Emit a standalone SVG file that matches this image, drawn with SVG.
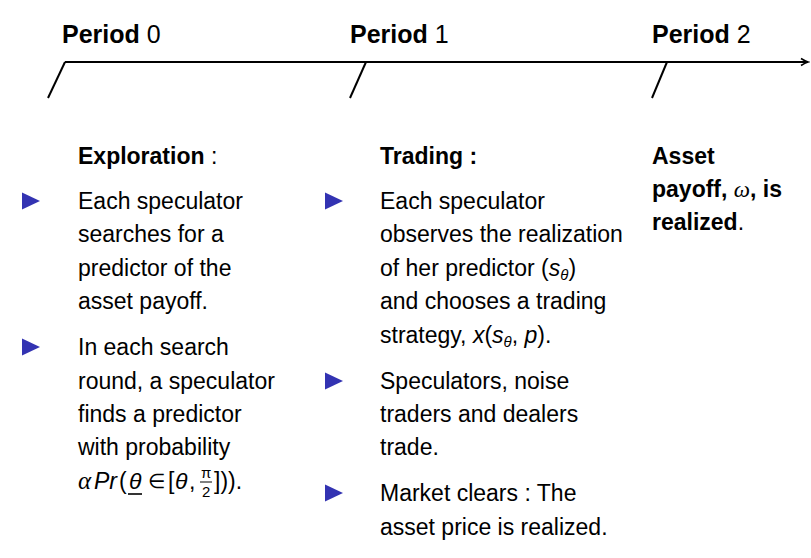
<svg xmlns="http://www.w3.org/2000/svg" width="811" height="558" viewBox="0 0 811 558">
<style>
text{font-family:"Liberation Sans",Arial,sans-serif;font-size:23px;fill:#000}
.b{font-weight:bold}
.h{font-size:25px}
.it{font-style:italic}
.ser{font-family:"Liberation Serif","Times New Roman",serif;font-style:italic}
.sub{font-size:15px}
.sm{font-size:15px}
.ln{stroke:#000;stroke-width:2;fill:none}
.bul{fill:#3333b2}
</style>
<defs>
<marker id="ah" markerWidth="10" markerHeight="10" refX="8" refY="5" orient="auto" markerUnits="userSpaceOnUse">
<path d="M1,1.5 Q5,4 8,5 Q5,6 1,8.5" fill="none" stroke="#000" stroke-width="1.6"/>
</marker>
<path id="tri" d="M0,-8.5 L18,0 L0,8.5 Z"/>
</defs>
<g id="connectors">
<path class="ln" d="M65,62 H808" marker-end="url(#ah)"/>
<path class="ln" d="M65,62 L48,98"/>
<path class="ln" d="M366,62 L350,98"/>
<path class="ln" d="M667,62 L652,98"/>
</g>
<g id="period0"><text x="62" y="43" class="h"><tspan class="b">Period</tspan> 0</text></g>
<g id="period1"><text x="350" y="43" class="h"><tspan class="b">Period</tspan> 1</text></g>
<g id="period2"><text x="652" y="43" class="h"><tspan class="b">Period</tspan> 2</text></g>
<g id="exploration">
<text x="78" y="164"><tspan class="b">Exploration</tspan> :</text>
<use href="#tri" class="bul" x="22" y="201"/>
<text x="78" y="209">Each speculator</text>
<text x="78" y="242">searches for a</text>
<text x="78" y="276">predictor of the</text>
<text x="78" y="309">asset payoff.</text>
<use href="#tri" class="bul" x="22" y="347"/>
<text x="78" y="355">In each search</text>
<text x="78" y="389">round, a speculator</text>
<text x="78" y="422">finds a predictor</text>
<text x="78" y="455">with probability</text>
<text x="78" y="489" class="ser" style="font-size:25px">α</text>
<text x="94" y="489" class="it">Pr</text>
<text x="119" y="489">(</text>
<text x="129" y="489" class="it">θ</text>
<line x1="128" y1="494" x2="142" y2="494" stroke="#000" stroke-width="1.6"/>
<text x="148" y="488" style="font-size:20px">∈</text>
<text x="168" y="489">[</text>
<text x="175" y="489" class="it">θ</text>
<text x="189" y="489">,</text>
<text x="201" y="478" class="sm">π</text>
<line x1="200" y1="482" x2="212" y2="482" stroke="#000" stroke-width="1"/>
<text x="202" y="497" class="sm">2</text>
<text x="214" y="489">])).</text>
</g>
<g id="trading">
<text x="380" y="164" class="b">Trading :</text>
<use href="#tri" class="bul" x="325" y="201"/>
<text x="380" y="209">Each speculator</text>
<text x="380" y="242">observes the realization</text>
<text x="380" y="276">of her predictor (<tspan class="it">s</tspan><tspan class="it sub" dy="4">θ</tspan><tspan dy="-4">)</tspan></text>
<text x="380" y="309">and chooses a trading</text>
<text x="380" y="343">strategy, <tspan class="it">x</tspan>(<tspan class="it">s</tspan><tspan class="it sub" dy="4">θ</tspan><tspan dy="-4">, </tspan><tspan class="it">p</tspan>).</text>
<use href="#tri" class="bul" x="325" y="381"/>
<text x="380" y="389">Speculators, noise</text>
<text x="380" y="422">traders and dealers</text>
<text x="380" y="455">trade.</text>
<use href="#tri" class="bul" x="325" y="493"/>
<text x="380" y="501">Market clears : The</text>
<text x="380" y="535">asset price is realized.</text>
</g>
<g id="payoff">
<text x="652" y="164" class="b">Asset</text>
<text x="652" y="197"><tspan class="b">payoff, </tspan><tspan class="ser">ω</tspan><tspan class="b">, is</tspan></text>
<text x="652" y="230"><tspan class="b">realized</tspan>.</text>
</g>
</svg>
